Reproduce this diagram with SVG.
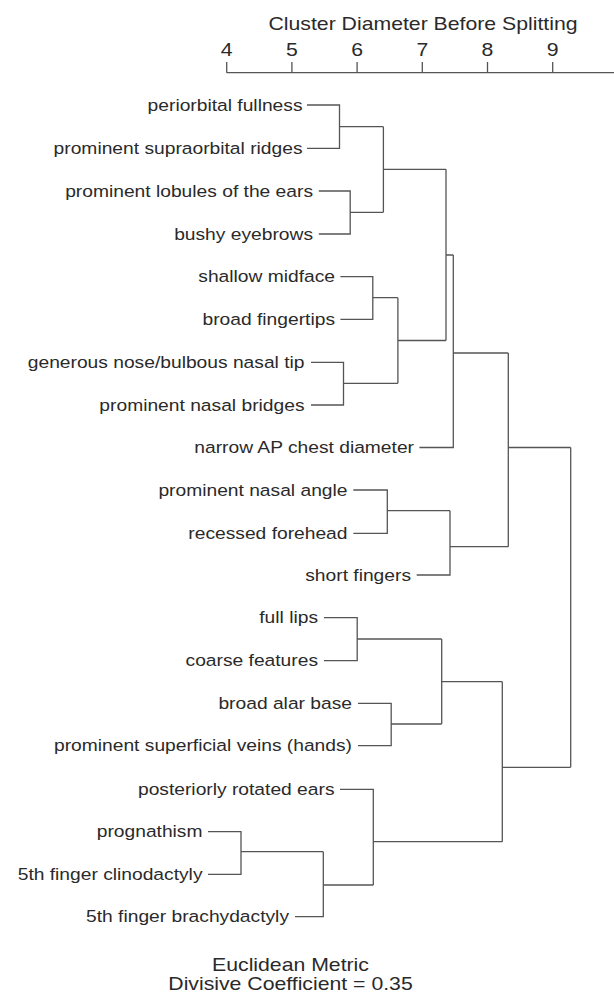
<svg xmlns="http://www.w3.org/2000/svg" width="614" height="994" viewBox="0 0 614 994">
  <style>
    .bg { fill: #ffffff; }
    text { font-family: "Liberation Sans", Arial, Helvetica, sans-serif; fill: #2a2a2a; }
    .lbl { font-size: 16.3px; text-anchor: end; }
    .ax { font-size: 18px; text-anchor: middle; }
    .note { font-size: 18px; text-anchor: middle; }
    .link, .axis { fill: none; stroke: #555555; stroke-width: 1.3; }
  </style>
  <rect class="bg" x="0" y="0" width="614" height="994"/>

  <!-- scale: cluster diameter before splitting -->
  <g id="axis">
    <text class="ax" transform="translate(423 30) scale(1.18 1)">Cluster Diameter Before Splitting</text>
    <path class="axis" d="M226.7 72.7 H614 M226.7 62 V72.7 M291.9 62 V72.7 M357.1 62 V72.7 M422.3 62 V72.7 M487.5 62 V72.7 M552.7 62 V72.7"/>
    <text class="ax" transform="translate(226.7 56) scale(1.18 1)">4</text>
    <text class="ax" transform="translate(291.9 56) scale(1.18 1)">5</text>
    <text class="ax" transform="translate(357.1 56) scale(1.18 1)">6</text>
    <text class="ax" transform="translate(422.3 56) scale(1.18 1)">7</text>
    <text class="ax" transform="translate(487.5 56) scale(1.18 1)">8</text>
    <text class="ax" transform="translate(552.7 56) scale(1.18 1)">9</text>
  </g>

  <!-- leaves -->
  <g id="n-periorbital"><text class="lbl" transform="translate(302.5 110.5) scale(1.18 1)">periorbital fullness</text></g>
  <g id="n-supraorbital"><text class="lbl" transform="translate(302.5 153.8) scale(1.18 1)">prominent supraorbital ridges</text></g>
  <g id="n-lobules"><text class="lbl" transform="translate(313 196.5) scale(1.18 1)">prominent lobules of the ears</text></g>
  <g id="n-eyebrows"><text class="lbl" transform="translate(313 239.5) scale(1.18 1)">bushy eyebrows</text></g>
  <g id="n-midface"><text class="lbl" transform="translate(335 282.2) scale(1.18 1)">shallow midface</text></g>
  <g id="n-fingertips"><text class="lbl" transform="translate(335 324.8) scale(1.18 1)">broad fingertips</text></g>
  <g id="n-nose"><text class="lbl" transform="translate(304.5 367.8) scale(1.18 1)">generous nose/bulbous nasal tip</text></g>
  <g id="n-bridges"><text class="lbl" transform="translate(304.5 410.5) scale(1.18 1)">prominent nasal bridges</text></g>
  <g id="n-chest"><text class="lbl" transform="translate(414 453) scale(1.18 1)">narrow AP chest diameter</text></g>
  <g id="n-nasal-angle"><text class="lbl" transform="translate(347.5 495.5) scale(1.18 1)">prominent nasal angle</text></g>
  <g id="n-forehead"><text class="lbl" transform="translate(347.5 538.8) scale(1.18 1)">recessed forehead</text></g>
  <g id="n-short-fingers"><text class="lbl" transform="translate(411 580.5) scale(1.18 1)">short fingers</text></g>
  <g id="n-lips"><text class="lbl" transform="translate(318 623.2) scale(1.18 1)">full lips</text></g>
  <g id="n-coarse"><text class="lbl" transform="translate(318 666.2) scale(1.18 1)">coarse features</text></g>
  <g id="n-alar"><text class="lbl" transform="translate(352 708.8) scale(1.18 1)">broad alar base</text></g>
  <g id="n-veins"><text class="lbl" transform="translate(352 751.2) scale(1.18 1)">prominent superficial veins (hands)</text></g>
  <g id="n-ears"><text class="lbl" transform="translate(334.5 794.8) scale(1.18 1)">posteriorly rotated ears</text></g>
  <g id="n-prognathism"><text class="lbl" transform="translate(202.5 837.2) scale(1.18 1)">prognathism</text></g>
  <g id="n-clinodactyly"><text class="lbl" transform="translate(202.5 879.8) scale(1.18 1)">5th finger clinodactyly</text></g>
  <g id="n-brachydactyly"><text class="lbl" transform="translate(289 922.2) scale(1.18 1)">5th finger brachydactyly</text></g>

  <!-- dendrogram branches -->
  <g id="connectors" class="link">
    <path d="M307 105 H339.5 V148.3 H307 M339.5 126.7 H383.4"/>
    <path d="M318.8 191 H350.2 V234 H318.8 M350.2 212.3 H383.4"/>
    <path d="M383.4 126.7 V212.3 M383.4 169.3 H446"/>
    <path d="M340.4 276.7 H372.8 V319.3 H340.4 M372.8 297.7 H397.9"/>
    <path d="M311 362.3 H343.5 V405 H311 M343.5 383.3 H397.9"/>
    <path d="M397.9 297.7 V383.3 M397.9 340.5 H446"/>
    <path d="M446 169.3 V340.5 M446 255 H453.3"/>
    <path d="M419.4 447.5 H453.3 V255 M453.3 353 H508.3"/>
    <path d="M353.3 490 H387.3 V533.3 H353.3 M387.3 510.7 H450"/>
    <path d="M416.7 575 H450 V510.7 M450 546.7 H508.3"/>
    <path d="M508.3 353 V546.7 M508.3 447.5 H570.7"/>
    <path d="M323.9 617.7 H357.2 V660.7 H323.9 M357.2 639 H441.7"/>
    <path d="M358 703.3 H391.2 V745.7 H358 M391.2 724 H441.7"/>
    <path d="M441.7 639 V724 M441.7 681.7 H502.3"/>
    <path d="M208 831.7 H241 V874.3 H208 M241 851.7 H323.3"/>
    <path d="M295 916.7 H323.3 V851.7 M323.3 885 H373.3"/>
    <path d="M340 789.3 H373.3 V885 M373.3 841.7 H502.3"/>
    <path d="M502.3 681.7 V841.7 M502.3 767.3 H570.7"/>
    <path d="M570.7 447.5 V767.3"/>
  </g>

  <g id="caption">
    <text class="note" transform="translate(290.5 971) scale(1.18 1)">Euclidean Metric</text>
    <text class="note" transform="translate(290.5 989.5) scale(1.18 1)">Divisive Coefficient = 0.35</text>
  </g>
</svg>
